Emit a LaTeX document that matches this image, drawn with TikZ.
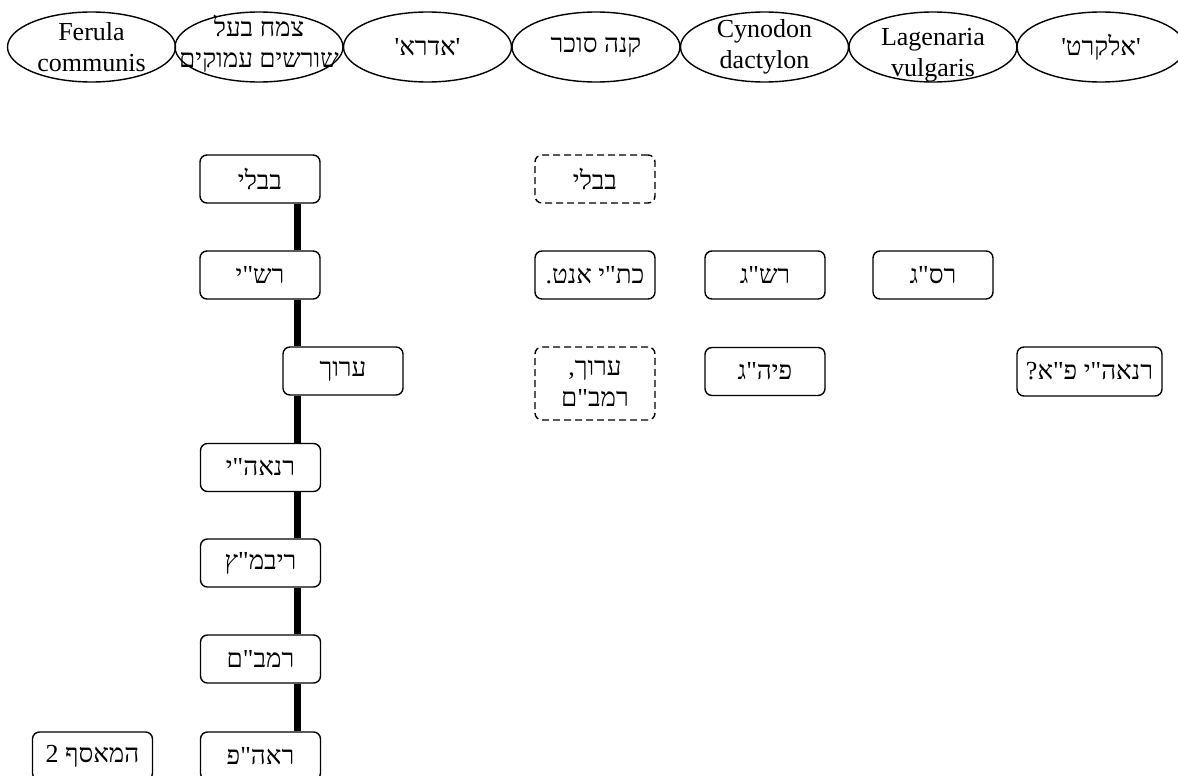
\documentclass[tikz,border=0pt]{standalone}
\usepackage{fontspec}
\setmainfont{Liberation Serif}
\newfontfamily\heb[Script=Hebrew]{Liberation Serif}
\TeXXeTstate=1
\usetikzlibrary{shapes.geometric,backgrounds}
\newcommand\HE[1]{{\heb\beginR #1\endR}}
\begin{document}
\begin{tikzpicture}[x=1pt,y=-1pt,
  txt/.style={font=\fontsize{26}{31}\selectfont},
  ell/.style={draw,line width=1.4pt,ellipse,minimum width=168pt,minimum height=70pt,inner sep=0pt},
  etxt/.style={txt,align=center,inner sep=0pt},
  box/.style={txt,draw,line width=1.4pt,rounded corners=7pt,fill=white,minimum width=120pt,minimum height=48pt,inner sep=0pt,align=center},
  dbox/.style={box,dash pattern=on 7pt off 4pt},
  trunkline/.style={line width=7pt}]
\clip (0,0) rectangle (1178,776);
\useasboundingbox (0,0) rectangle (1178,776);
% ellipses
\node[ell,label={[name=e1t,etxt]center:Ferula\\communis}] (e1) at (91.5,47) {};
\node[ell,label={[name=e2t,etxt,yshift=3pt]center:\HE{צמח בעל}\\\HE{שורשים עמוקים}}] (e2) at (259,47) {};
\node[ell,label={[name=e3t,etxt]center:\HE{'אדרא'}}] (e3) at (427.5,47) {};
\node[ell,label={[name=e4t,etxt]center:\HE{קנה סוכר}}] (e4) at (596,47) {};
\node[ell,label={[name=e5t,etxt]center:Cynodon\\dactylon}] (e5) at (764.5,47) {};
\node[ell,label={[name=e6t,etxt,yshift=-8pt]center:Lagenaria\\vulgaris}] (e6) at (933,47) {};
\node[ell,label={[name=e7t,etxt]center:\HE{'אלקרט'}}] (e7) at (1101,47) {};
% main column
\node[box] (bavli) at (260,179) {\HE{בבלי}};
\node[box] (rashi) at (260,275) {\HE{רש"י}};
\node[box] (arukh) at (343,371) {\HE{ערוך}};
\node[box] (rnaahi) at (260.5,467.5) {\HE{רנאה"י}};
\node[box] (ribmatz) at (260.5,563) {\HE{ריבמ"ץ}};
\node[box] (rambam) at (260.5,659) {\HE{רמב"ם}};
\node[box] (raahp) at (260.5,756) {\HE{ראה"פ}};
\node[box] (measef) at (92.5,756) {\HE{המאסף 2}};
% other columns
\node[dbox] (dbavli) at (595,179) {\HE{בבלי}};
\node[box] (ktav) at (595,275) {\HE{כת"י אנט.}};
\node[dbox,minimum height=73pt] (darukh) at (595,383.5) {\HE{ערוך,}\\\HE{רמב"ם}};
\node[box] (rashag) at (765,275) {\HE{רש"ג}};
\node[box] (rasag) at (933,275) {\HE{רס"ג}};
\node[box] (piyhag) at (765,371.5) {\HE{פיה"ג}};
\node[box,minimum width=145pt,minimum height=49pt] (rnaahipa) at (1089.5,371.5) {\HE{רנאה"י פ"א?}};
% trunk
\coordinate (trunk) at (297,0);
\begin{pgfonlayer}{background}
\draw[trunkline] (bavli.south -| trunk) -- (rashi.north -| trunk);
\draw[trunkline] (rashi.south -| trunk) -- (arukh.north -| trunk);
\draw[trunkline] (arukh.south -| trunk) -- (rnaahi.north -| trunk);
\draw[trunkline] (rnaahi.south -| trunk) -- (ribmatz.north -| trunk);
\draw[trunkline] (ribmatz.south -| trunk) -- (rambam.north -| trunk);
\draw[trunkline] (rambam.south -| trunk) -- (raahp.north -| trunk);
\end{pgfonlayer}
\end{tikzpicture}
\end{document}
